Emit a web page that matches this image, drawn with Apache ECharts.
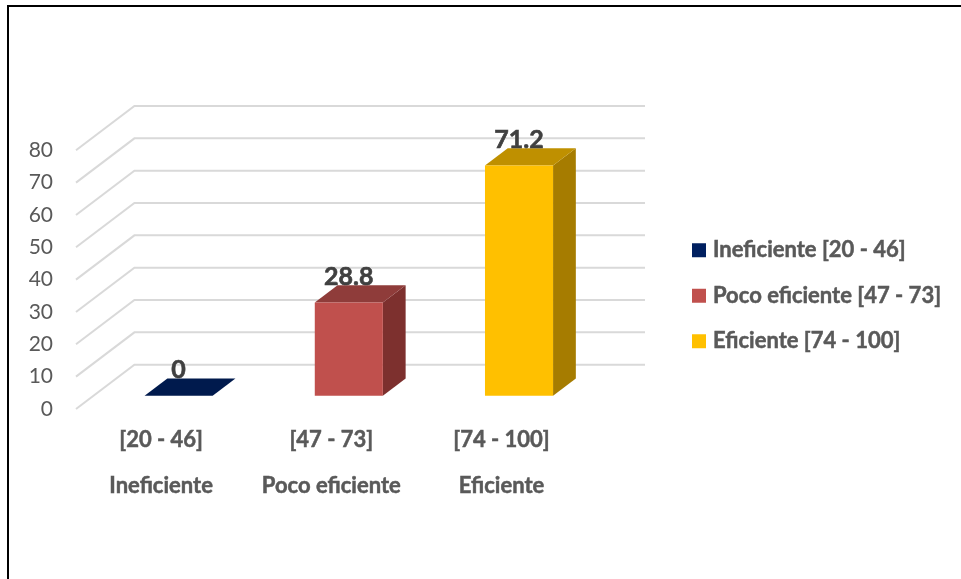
<!DOCTYPE html>
<html lang="es">
<head>
<meta charset="utf-8">
<title>Niveles de eficiencia</title>
<script src="https://cdn.jsdelivr.net/npm/echarts@6/dist/echarts.min.js"></script>
<style>
  html, body { margin: 0; padding: 0; background: #fff; }
  #chart { width: 961px; height: 579px; }
</style>
</head>
<body>
<div id="chart"></div>
<script>
// Efficiency levels: score range, level name, share of cases
const ranges = ['[20 - 46]', '[47 - 73]', '[74 - 100]'];
const levels = ['Ineficiente', 'Poco eficiente', 'Eficiente'];
const values = [0, 28.8, 71.2];
const yTicks = [0, 10, 20, 30, 40, 50, 60, 70, 80];
const legendNames = ['Ineficiente [20 - 46]', 'Poco eficiente [47 - 73]', 'Eficiente [74 - 100]'];

const categories = ranges.map((r, i) => r + '\n' + levels[i]);

// Face colours for each column: front, top, side
const faceColors = [
  ['#002060', '#001A4D', '#00163F'],
  ['#C0504D', '#8F3C3A', '#7D302E'],
  ['#FFC000', '#BF9000', '#A67C00']
];

// Oblique projection of the chart floor
const WALL_DX = 58.4;
const WALL_DY = -44.3;
const BAR_FRONT = 0.30;   // where the column starts along the depth
const BAR_DEPTH = 0.39;   // how deep the column is
const BAR_RATIO = 0.40;   // column width relative to the category band

const textColor = '#595959';
const fontFamily = 'Lato, "Open Sans", sans-serif';

// One grid line: slanted on the side wall, then straight across the back wall
function renderWallLine(params, api) {
  const rect = params.coordSys;
  const y = api.coord([0, api.value(1)])[1];
  return {
    type: 'polyline',
    silent: true,
    shape: {
      points: [
        [rect.x, y],
        [rect.x + WALL_DX, y + WALL_DY],
        [rect.x + rect.width + WALL_DX, y + WALL_DY]
      ]
    },
    style: { fill: null, stroke: '#D9D9D9', lineWidth: 2 }
  };
}

// A column as three faces with its value written above the top face
function makeRenderColumn(colors) {
  return function (params, api) {
    const idx = api.value(0);
    const val = api.value(1);
    const band = api.size([1, 0])[0];
    const w = band * BAR_RATIO;
    const base = api.coord([idx, 0]);
    const top = api.coord([idx, val]);
    const ox = WALL_DX * BAR_FRONT;
    const oy = WALL_DY * BAR_FRONT;
    const dx = WALL_DX * BAR_DEPTH;
    const dy = WALL_DY * BAR_DEPTH;
    const xl = base[0] + ox - w / 2;
    const xr = xl + w;
    const yb = base[1] + oy;
    const yt = top[1] + oy;
    const poly = (points, fill) => ({
      type: 'polygon',
      shape: { points: points },
      style: { fill: fill }
    });
    return {
      type: 'group',
      children: [
        poly([[xr, yb], [xr + dx, yb + dy], [xr + dx, yt + dy], [xr, yt]], colors[2]),
        poly([[xl, yt], [xr, yt], [xr + dx, yt + dy], [xl + dx, yt + dy]], colors[1]),
        poly([[xl, yb], [xr, yb], [xr, yt], [xl, yt]], colors[0]),
        {
          type: 'text',
          style: {
            x: (xl + xr) / 2,
            y: yt + dy - 8.5,
            text: String(val),
            fill: '#404040',
            stroke: '#404040',
            lineWidth: 0.6,
            font: 'bold 25px ' + fontFamily,
            align: 'center',
            verticalAlign: 'middle'
          }
        }
      ]
    };
  };
}

const columnSeries = legendNames.map((name, i) => ({
  name: name,
  type: 'custom',
  coordinateSystem: 'cartesian2d',
  clip: false,
  z: 3,
  itemStyle: { color: faceColors[i][0] },
  encode: { x: 0, y: 1 },
  data: [[categories[i], values[i]]],
  renderItem: makeRenderColumn(faceColors[i])
}));

const chart = echarts.init(document.getElementById('chart'), null, { renderer: 'canvas' });

chart.setOption({
  animation: false,
  backgroundColor: '#ffffff',
  grid: { left: 76, top: 150.3, width: 510.6, height: 258.7, containLabel: false },
  xAxis: {
    type: 'category',
    data: categories,
    axisLine: { show: false },
    axisTick: { show: false },
    splitLine: { show: false },
    axisLabel: {
      margin: 8,
      interval: 0,
      color: textColor,
      fontFamily: fontFamily,
      fontWeight: 'bold',
      fontSize: 22,
      lineHeight: 46,
      textBorderColor: textColor,
      textBorderWidth: 0.5
    }
  },
  yAxis: {
    type: 'value',
    min: 0,
    max: 80,
    interval: 10,
    axisLine: { show: false },
    axisTick: { show: false },
    splitLine: { show: false },
    axisLabel: {
      margin: 23,
      color: textColor,
      fontFamily: fontFamily,
      fontSize: 21
    }
  },
  legend: {
    orient: 'vertical',
    left: 687,
    top: 234,
    itemWidth: 14,
    itemHeight: 14,
    itemGap: 23,
    icon: 'rect',
    data: legendNames,
    textStyle: {
      color: textColor,
      fontFamily: fontFamily,
      fontWeight: 'bold',
      fontSize: 22,
      padding: [0, 0, 0, 2],
      textBorderColor: textColor,
      textBorderWidth: 0.5
    }
  },
  graphic: [{
    type: 'polyline',
    silent: true,
    shape: { points: [[8, 579], [8, 6], [961, 6]] },
    style: { fill: null, stroke: '#000000', lineWidth: 2 }
  }],
  series: [{
    name: 'Cuadrícula',
    type: 'custom',
    coordinateSystem: 'cartesian2d',
    clip: false,
    silent: true,
    z: 1,
    encode: { y: 1 },
    data: yTicks.map(v => [0, v]),
    renderItem: renderWallLine
  }].concat(columnSeries)
});
</script>
</body>
</html>
